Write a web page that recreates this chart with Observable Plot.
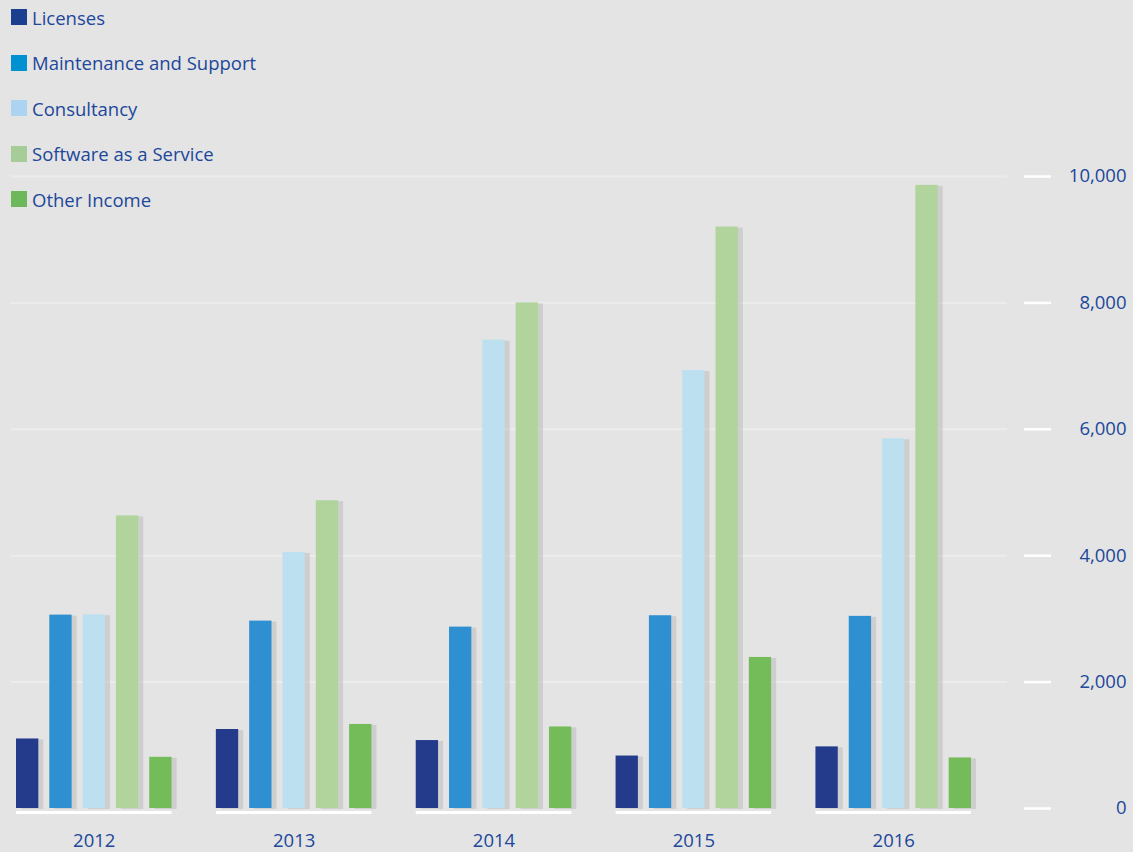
<!DOCTYPE html>
<html>
<head>
<meta charset="utf-8">
<script src="https://cdn.jsdelivr.net/npm/d3@7"></script>
<script src="https://cdn.jsdelivr.net/npm/@observablehq/plot@0.6"></script>
<style>
  html, body { margin: 0; padding: 0; background: #e4e4e4; }
  #wrap { position: relative; width: 1133px; height: 852px; overflow: hidden; }
  #legend { position: absolute; left: 11px; top: -5.75px; font-family: "Open Sans", sans-serif; font-size: 18.5px; color: #20479a; }
  .item { height: 45.5px; display: flex; align-items: center; white-space: nowrap; }
  .sw { width: 16px; height: 16px; margin-right: 5px; flex: none; }
  #chart { position: absolute; left: 0; top: 0; }
</style>
</head>
<body>
<div id="wrap">
  <div id="chart"></div>
  <div id="legend"></div>
</div>
<script>
const years = ["2012", "2013", "2014", "2015", "2016"];
const categories = ["Licenses", "Maintenance and Support", "Consultancy", "Software as a Service", "Other Income"];
const licenses    = [1100, 1250, 1075, 830, 975];
const maintenance = [3060, 2965, 2870, 3050, 3040];
const consultancy = [3065, 4050, 7410, 6930, 5850];
const saas        = [4630, 4870, 8000, 9200, 9860];
const otherIncome = [810, 1330, 1290, 2390, 800];
const barColors    = ["#243b8c", "#2e8fd1", "#bde0f0", "#b1d49d", "#74bb5a"];
const legendColors = ["#1b3f8f", "#0091d0", "#acd3ef", "#a6cc98", "#6cb85a"];
const yTicks = [0, 2000, 4000, 6000, 8000, 10000];

const series = [licenses, maintenance, consultancy, saas, otherIncome];
const key = (y, c) => y + "|" + c;
const data = [];
const xDomain = [];
years.forEach((year, i) => {
  if (i > 0) xDomain.push(key(year, "gap"));
  categories.forEach((category, j) => {
    data.push({year, category, slot: key(year, category), value: series[j][i]});
    xDomain.push(key(year, category));
  });
});

const fmt = d3.format(",");
const textColor = "#20479a";

const chart = Plot.plot({
  width: 1133,
  height: 852,
  marginTop: 176,
  marginBottom: 44,
  marginLeft: 16,
  marginRight: 162,
  style: {background: "transparent", fontFamily: "'Open Sans', sans-serif", fontSize: "18.5px", color: textColor},
  x: {type: "band", domain: xDomain, paddingInner: 0.33, paddingOuter: 0, round: false, axis: null},
  y: {domain: [0, 10000], axis: null},
  color: {domain: categories, range: barColors},
  marks: [
    Plot.ruleY(yTicks.filter(d => d > 0), {stroke: "#ececec", strokeWidth: 2, insetLeft: -5, insetRight: -36}),
    Plot.barY(data, {x: "slot", y: "value", fill: "#b8b8b8", fillOpacity: 0.5, dx: 5, dy: 1}),
    Plot.barY(data, {x: "slot", y: "value", fill: "category"}),
    Plot.ruleY(years, {y: 0, x1: d => key(d, categories[0]), x2: d => key(d, categories[4]), stroke: "white", strokeWidth: 3, dy: 4}),
    Plot.ruleY(yTicks, {stroke: "white", strokeWidth: 2.5, insetLeft: 1008, insetRight: -80}),
    Plot.text(yTicks, {y: d => d, text: d => fmt(d), frameAnchor: "right", dx: 155, textAnchor: "end", fill: textColor}),
    Plot.text(years, {x: d => key(d, categories[2]), text: d => d, frameAnchor: "bottom", dy: 38, fill: textColor})
  ]
});
document.getElementById("chart").appendChild(chart);

const legend = document.getElementById("legend");
categories.forEach((c, i) => {
  const row = document.createElement("div");
  row.className = "item";
  const sw = document.createElement("span");
  sw.className = "sw";
  sw.style.background = legendColors[i];
  const label = document.createElement("span");
  label.textContent = c;
  row.appendChild(sw);
  row.appendChild(label);
  legend.appendChild(row);
});
</script>
</body>
</html>
